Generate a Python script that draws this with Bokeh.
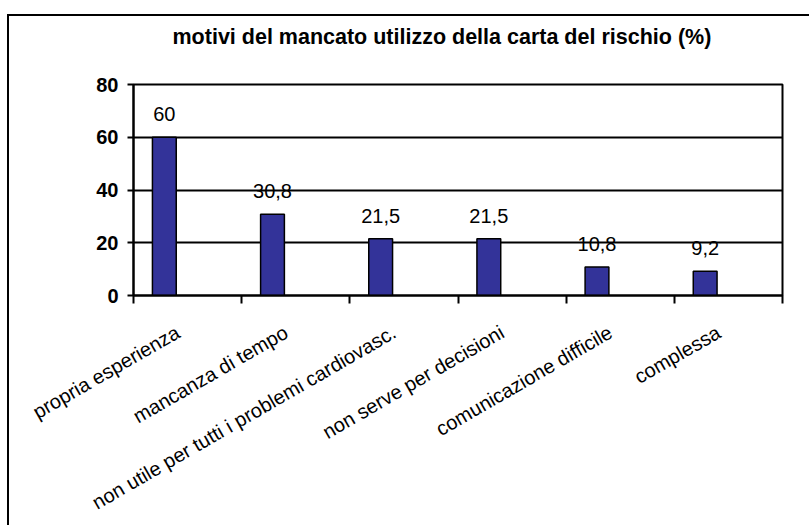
import math
from bokeh.plotting import figure
from bokeh.models import Range1d, FixedTicker, ColumnDataSource, Title
from bokeh.core.properties import value
from bokeh.embed import file_html
from bokeh.resources import INLINE

categories = ["propria esperienza", "mancanza di tempo",
              "non utile per tutti i problemi cardiovasc.",
              "non serve per decisioni", "comunicazione difficile", "complessa"]
values = [60, 30.8, 21.5, 21.5, 10.8, 9.2]
value_labels = ["60", "30,8", "21,5", "21,5", "10,8", "9,2"]
y_ticks = [0, 20, 40, 60, 80]
title_text = "motivi del mancato utilizzo della carta del rischio (%)"

FONT = "Liberation Sans"
n = len(categories)

p = figure(width=809, height=525, output_backend="svg", toolbar_location=None,
           x_range=Range1d(0, n), y_range=Range1d(0, 80),
           min_border_left=133, min_border_right=27, min_border_top=84,
           min_border_bottom=200)
p.styles = {
    "background-image": "linear-gradient(#000,#000), linear-gradient(#000,#000)",
    "background-size": "2px 100%, 100% 2px",
    "background-position": "7px 14px, 7px 14px",
    "background-repeat": "no-repeat",
}
p.background_fill_color = "white"
p.border_fill_color = None
p.outline_line_color = "black"
p.outline_line_width = 2

# title (with a blank spacer panel between it and the frame)
p.add_layout(Title(text=" ", text_font_size="10px", standoff=18), "above")
p.title.text = title_text
p.title.align = "left"
p.title.offset = 39
p.title.standoff = 10
p.title.text_font = FONT
p.title.text_font_size = "21.5px"
p.title.text_font_style = "bold"
p.title.text_color = "black"

pos = [i + 0.285 for i in range(n)]
src = ColumnDataSource(dict(x=pos, top=values, lab=value_labels))
p.vbar(x="x", top="top", width=0.22, bottom=0, source=src,
       fill_color="#333399", line_color="black", line_width=1.5)
p.text(x="x", y="top", text="lab", source=src, y_offset=-23,
       text_align="center", text_baseline="middle",
       text_font_size="20px", text_color="black",
       text_font=value(FONT))

# axes
label_pos = [i + 0.41 for i in range(n)]
xa = p.xaxis[0]
xa.ticker = FixedTicker(ticks=label_pos, minor_ticks=list(range(n + 1)))
xa.major_label_overrides = {t: c for t, c in zip(label_pos, categories)}
xa.major_tick_out = 0
xa.major_tick_in = 0
xa.minor_tick_out = 8
xa.minor_tick_in = 0
xa.minor_tick_line_color = "black"
xa.minor_tick_line_width = 2
xa.axis_line_color = "black"
xa.axis_line_width = 2
xa.major_label_orientation = math.pi / 6
xa.major_label_standoff = 27
xa.major_label_text_font = FONT
xa.major_label_text_font_size = "20px"
xa.major_label_text_line_height = 1.0
xa.major_label_text_font_style = "normal"
xa.major_label_text_color = "black"

ya = p.yaxis[0]
ya.ticker = FixedTicker(ticks=y_ticks)
ya.major_tick_out = 6
ya.major_tick_in = 0
ya.major_tick_line_width = 2
ya.major_tick_line_color = "black"
ya.minor_tick_line_color = None
ya.axis_line_color = "black"
ya.axis_line_width = 2
ya.major_label_standoff = 9
ya.major_label_text_font = FONT
ya.major_label_text_font_size = "20px"
ya.major_label_text_font_style = "bold"
ya.major_label_text_color = "black"

p.xgrid.grid_line_color = None
p.ygrid.ticker = FixedTicker(ticks=y_ticks)
p.ygrid.grid_line_color = "black"
p.ygrid.grid_line_width = 2

open("out.html", "w").write(file_html(p, INLINE))
